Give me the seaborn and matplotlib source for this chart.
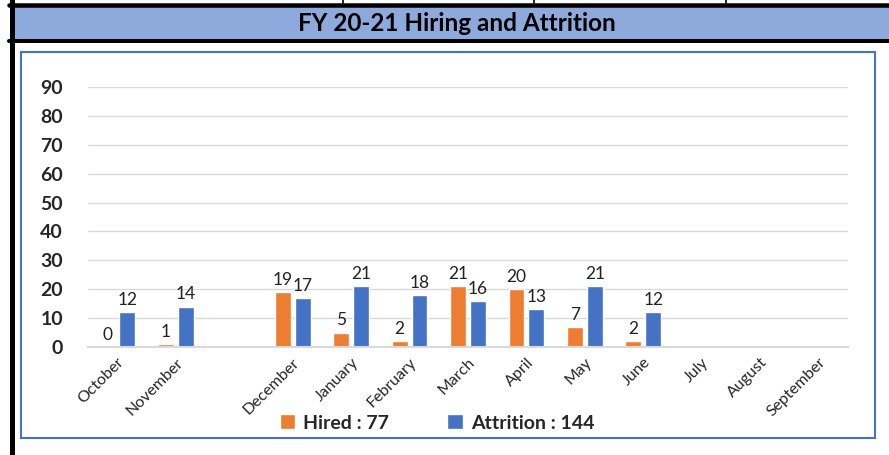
import matplotlib.pyplot as plt
import pandas as pd
import seaborn as sns
from matplotlib.patches import Rectangle, Patch
from matplotlib.lines import Line2D

# Monthly values (blank slot between November and December kept as in the original)
months = ["October", "November", " ", "December", "January", "February",
          "March", "April", "May", "June", "July", "August", "September"]
hired = [0, 1, None, 19, 5, 2, 21, 20, 7, 2, None, None, None]
attrition = [12, 14, None, 17, 21, 18, 16, 13, 21, 12, None, None, None]
title = "FY 20-21 Hiring and Attrition"

hired_label = f"Hired : {int(sum(v for v in hired if v is not None))}"
attr_label = f"Attrition : {int(sum(v for v in attrition if v is not None))}"

df = pd.DataFrame({"month": months, hired_label: hired, attr_label: attrition})
df_long = df.melt(id_vars="month", var_name="series", value_name="count").dropna()

sns.set_style("white")
plt.rcParams["font.family"] = ["Lato", "DejaVu Sans"]

W, H = 889, 455
fig = plt.figure(figsize=(W / 100, H / 100), dpi=100)


def fx(x):
    return x / W


def fy(y):
    return 1 - y / H


# header band and black borders
fig.patches.append(Rectangle((fx(14), fy(40)), fx(W - 14), 33 / H, transform=fig.transFigure,
                             facecolor="#8EA9DB", edgecolor="none", zorder=-2))
for y0, lw in [(4.5, 4.5), (41, 4)]:
    fig.add_artist(Line2D([fx(9), 1], [fy(y0), fy(y0)], color="black", lw=lw * 0.72,
                          transform=fig.transFigure))
fig.add_artist(Line2D([fx(11.5), fx(11.5)], [0, 1], color="black", lw=5 * 0.72,
                      transform=fig.transFigure))
for x in [343, 534, 726]:
    fig.add_artist(Line2D([fx(x), fx(x)], [fy(0), fy(3)], color="black", lw=1.2,
                          transform=fig.transFigure))
fig.text(fx(457), fy(23.5), title, ha="center", va="center", fontsize=17.5,
         fontweight="bold", color="black")

# blue chart frame
fig.patches.append(Rectangle((fx(21), fy(438)), fx(875 - 21), (438 - 52) / H,
                             transform=fig.transFigure, facecolor="white",
                             edgecolor="#4472C4", lw=1.5, zorder=-2))

ax = fig.add_axes([fx(88), fy(347), fx(848 - 88), (347 - 87) / H])
ax.set_zorder(2)
ax.set_facecolor("none")
sns.barplot(data=df_long, x="month", y="count", hue="series", order=months,
            hue_order=[hired_label, attr_label],
            palette=["#ED7D31", "#4472C4"], width=0.68, gap=0.2,
            saturation=1, ax=ax, legend=False)

for cont in ax.containers:
    ax.bar_label(cont, fmt="{:.0f}", padding=3, fontsize=12.5, color="#222222")

ax.set_ylim(0, 90)
ax.set_xlim(-0.5, len(months) - 0.5)
ax.set_yticks(range(0, 91, 10))
ax.yaxis.grid(True, color="#D9D9D9", lw=1)
ax.set_axisbelow(True)
for s in ["left", "right", "top"]:
    ax.spines[s].set_visible(False)
ax.spines["bottom"].set_color("#D9D9D9")
ax.spines["bottom"].set_linewidth(1.5)
ax.set_xlabel("")
ax.set_ylabel("")
ax.tick_params(axis="y", length=0, pad=18, labelsize=14)
for t in ax.get_yticklabels():
    t.set_fontweight("bold")
ax.tick_params(axis="x", length=0, pad=6, labelsize=11.5)
ax.set_xticks(range(len(months)))
ax.set_xticklabels(months, rotation=45, ha="right", rotation_mode="anchor")

handles = [Patch(facecolor="#ED7D31", label=hired_label),
           Patch(facecolor="#4472C4", label=attr_label)]
fig.legend(handles=handles, loc="center", bbox_to_anchor=(fx(437), fy(423)), ncol=2,
           frameon=False, handlelength=0.8, handleheight=0.8, handletextpad=0.4,
           columnspacing=3.0, prop={"weight": "bold", "size": 14})

fig.savefig("out.png", dpi=100)
